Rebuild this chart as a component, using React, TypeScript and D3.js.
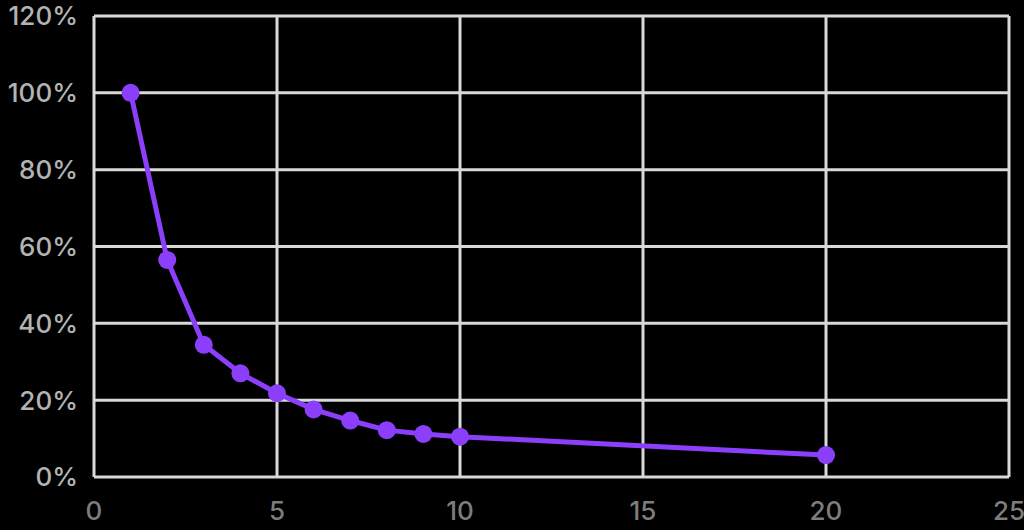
import React from "react";
import * as d3 from "d3";

const xValues = [1, 2, 3, 4, 5, 6, 7, 8, 9, 10, 20];
const yValues = [100, 56.5, 34.4, 27.0, 21.8, 17.6, 14.7, 12.2, 11.2, 10.5, 5.7];
const xTicks = [0, 5, 10, 15, 20, 25];
const yTicks = [0, 20, 40, 60, 80, 100, 120];

const W = 1024;
const H = 530;
const margin = { left: 94, right: 15, top: 16, bottom: 53 };

export default function App() {
  React.useEffect(() => {
    document.body.style.margin = "0";
    document.body.style.background = "#000";
  }, []);
  const x = d3.scaleLinear().domain([0, 25]).range([margin.left, W - margin.right]);
  const y = d3.scaleLinear().domain([0, 120]).range([H - margin.bottom, margin.top]);
  const data = xValues.map((v, i) => [v, yValues[i]] as [number, number]);
  const line = d3.line<[number, number]>().x((d) => x(d[0])).y((d) => y(d[1]));
  const font = "Inter, 'Noto Sans', sans-serif";
  return (
    <svg width={W} height={H} style={{ display: "block", background: "#000" }}>
      <rect x={0} y={0} width={W} height={H} fill="#000" />
      {xTicks.map((t) => (
        <line key={"gx" + t} x1={x(t)} x2={x(t)} y1={y(0)} y2={y(120)} stroke="#d9d9d9" strokeWidth={3} />
      ))}
      {yTicks.map((t) => (
        <line key={"gy" + t} x1={x(0)} x2={x(25)} y1={y(t)} y2={y(t)} stroke="#d9d9d9" strokeWidth={3} />
      ))}
      {yTicks.map((t) => (
        <text key={"ly" + t} x={78} y={y(t)} dy="0.36em" textAnchor="end" fill="#b3b3b3" fontSize={26} fontWeight={500} fontFamily={font}>
          {t + "%"}
        </text>
      ))}
      {xTicks.map((t) => (
        <text key={"lx" + t} x={x(t)} y={511} dy="0.36em" textAnchor="middle" fill="#7d7d7d" fontSize={26} fontWeight={500} fontFamily={font}>
          {t}
        </text>
      ))}
      <path d={line(data) || ""} fill="none" stroke="#8c3ffa" strokeWidth={5} strokeLinejoin="round" />
      {data.map((d, i) => (
        <circle key={i} cx={x(d[0])} cy={y(d[1])} r={9} fill="#8c3ffa" />
      ))}
    </svg>
  );
}
